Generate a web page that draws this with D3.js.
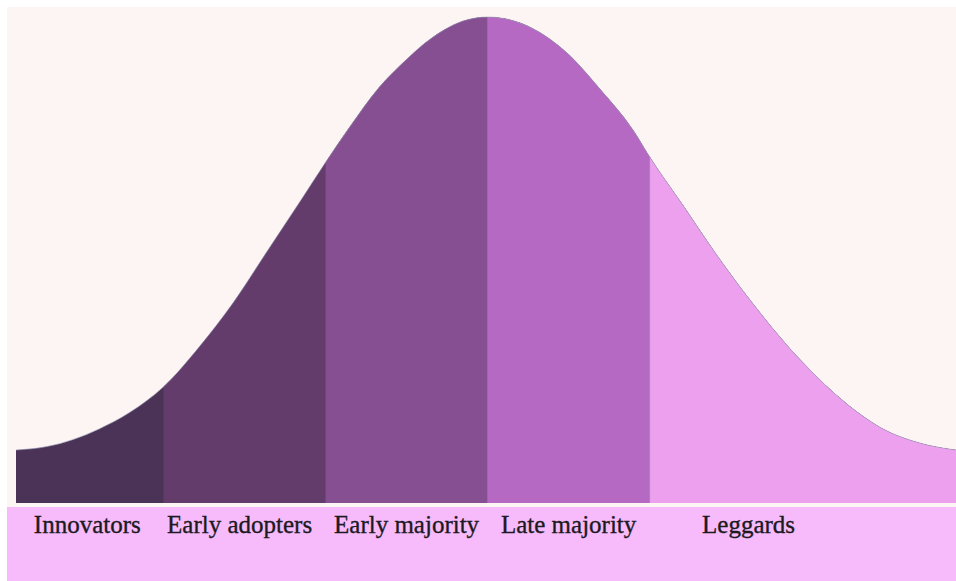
<!DOCTYPE html>
<html>
<head>
<meta charset="utf-8">
<script src="https://d3js.org/d3.v7.min.js"></script>
<style>
body { margin: 0; background: #fff; }
svg { display: block; }
text.label { font-family: 'Liberation Serif', 'Times New Roman', serif; font-size: 25px; fill: #1c1a1e; stroke: #1c1a1e; stroke-width: 0.35px; }
</style>
</head>
<body>
<svg width="956" height="581"></svg>

<script>
// adoption curve, x in standard deviations from the mean, y as % of peak
var curveX = [-2.91, -2.72, -2.40, -2.21, -2.00, -1.78, -1.57, -1.36, -1.16, -0.99, -0.85, -0.67, -0.54, -0.34, -0.13, 0,
              0.28, 0.49, 0.69, 0.90, 1.00, 1.20, 1.41, 1.60, 1.93, 2.23, 2.42, 2.67, 2.89];
var curveY = [10.9, 11.6, 15.2, 18.6, 23.9, 32.1, 41.2, 51.8, 61.9, 70.6, 77.4, 85.5, 90.0, 95.8, 99.4, 100,
              97.6, 92.6, 85.3, 76.6, 71.2, 61.5, 51.2, 42.6, 29.4, 20.0, 15.6, 12.3, 10.9];

var categories = ["Innovators", "Early adopters", "Early majority", "Late majority", "Leggards"];
var boundaries = [-2.91, -2, -1, 0, 1, 2.89];
var labelAt = [-2.47, -1.53, -0.5, 0.5, 1.61];
var colors = ["#4a3357", "#633c6c", "#854f91", "#b669c3", "#eca0ee"];

var svg = d3.select("svg");

var x = d3.scaleLinear().domain([-2.91, 2.89]).range([16, 956]);
var y = d3.scaleLinear().domain([0, 100]).range([503, 17]);

var points = curveX.map(function (d, i) { return [d, curveY[i]]; });

// background panel and label band
svg.append("rect").attr("x", 7).attr("y", 7).attr("width", 949).attr("height", 500).attr("fill", "#fdf4f4");
svg.append("rect").attr("x", 7).attr("y", 507).attr("width", 949).attr("height", 74).attr("fill", "#f7bbfb");

var area = d3.area()
    .x(function (d) { return x(d[0]); })
    .y0(y(0))
    .y1(function (d) { return y(d[1]); })
    .curve(d3.curveMonotoneX);

var line = d3.line()
    .x(function (d) { return x(d[0]); })
    .y(function (d) { return y(d[1]); })
    .curve(d3.curveMonotoneX);

// each segment is clipped from its left boundary to the right end,
// later segments painted over earlier ones so there are no seams
var defs = svg.append("defs");
categories.forEach(function (c, i) {
  defs.append("clipPath").attr("id", "seg" + i)
    .append("rect")
    .attr("x", x(boundaries[i]))
    .attr("y", 0)
    .attr("width", x(boundaries[boundaries.length - 1]) - x(boundaries[i]))
    .attr("height", 581);
});

svg.selectAll("path.segment").data(categories).enter()
  .append("path").attr("class", "segment")
  .attr("clip-path", function (d, i) { return "url(#seg" + i + ")"; })
  .attr("d", area(points))
  .attr("fill", function (d, i) { return colors[i]; });

// soft edge along the top of the curve
svg.append("path")
  .attr("d", line(points))
  .attr("fill", "none")
  .attr("stroke", "#9ea6ba")
  .attr("stroke-width", 1)
  .attr("stroke-opacity", 0.6);

// faint dividers between the middle segments
svg.selectAll("line.divider").data(boundaries.slice(3, 5)).enter()
  .append("line").attr("class", "divider")
  .attr("x1", function (d) { return x(d); })
  .attr("x2", function (d) { return x(d); })
  .attr("y1", function (d) { return y(curveY[curveX.indexOf(d)]); })
  .attr("y2", y(0))
  .attr("stroke", "#8e8aa6")
  .attr("stroke-opacity", 0.5);

svg.selectAll("text.label").data(categories).enter()
  .append("text").attr("class", "label")
  .attr("x", function (d, i) { return x(labelAt[i]); })
  .attr("y", 533)
  .attr("text-anchor", "middle")
  .text(function (d) { return d; });
</script>
</body>
</html>
